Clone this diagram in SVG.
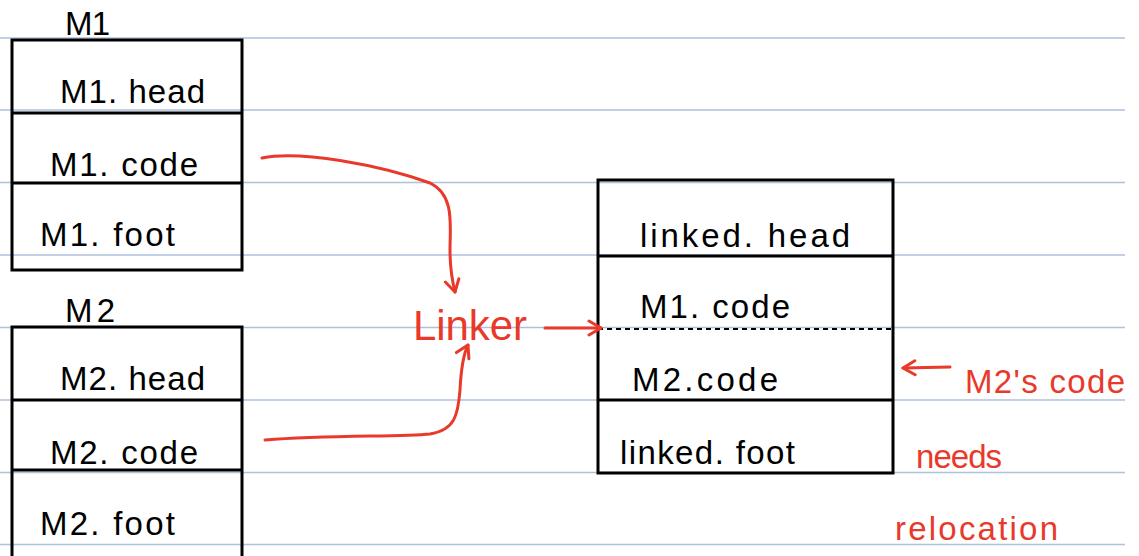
<svg xmlns="http://www.w3.org/2000/svg" width="1139" height="556" viewBox="0 0 1139 556">
<style>
.rule{stroke:#adc0dc;stroke-width:1.5}
.box{fill:none;stroke:#000;stroke-width:3}
.div{stroke:#000;stroke-width:3}
.t{font-family:"Liberation Sans",Arial,sans-serif;font-size:33px;fill:#000}
.r{font-family:"Liberation Sans",Arial,sans-serif;font-size:33px;fill:#e8392a}
.c{fill:none;stroke:#e8392a;stroke-width:3;stroke-linecap:round;stroke-linejoin:round}
</style>
<defs>
<marker id="ah" viewBox="-14 -9 16 18" markerWidth="16" markerHeight="18" refX="0" refY="0" orient="auto" markerUnits="userSpaceOnUse">
<path d="M-12,-7 L0,0 L-12,7" fill="none" stroke="#e8392a" stroke-width="3" stroke-linecap="round" stroke-linejoin="round"/>
</marker>
</defs>
<rect width="1139" height="556" fill="#fff"/>
<g id="rules">
<line class="rule" x1="0" y1="38" x2="1125" y2="38"/>
<line class="rule" x1="0" y1="110" x2="1125" y2="110"/>
<line class="rule" x1="0" y1="182.5" x2="1125" y2="182.5"/>
<line class="rule" x1="0" y1="255" x2="1125" y2="255"/>
<line class="rule" x1="0" y1="327.5" x2="1125" y2="327.5"/>
<line class="rule" x1="0" y1="400" x2="1125" y2="400"/>
<line class="rule" x1="0" y1="472.5" x2="1125" y2="472.5"/>
<line class="rule" x1="0" y1="544.5" x2="1125" y2="544.5"/>
</g>
<g id="m1">
<text class="t" x="65" y="35" textLength="45" lengthAdjust="spacing">M1</text>
<rect class="box" x="12" y="40" width="230" height="230"/>
<line class="div" x1="12" y1="113" x2="242" y2="113"/>
<line class="div" x1="12" y1="183" x2="242" y2="183"/>
<text class="t" x="60" y="103" textLength="145" lengthAdjust="spacing">M1. head</text>
<text class="t" x="50" y="176" textLength="148" lengthAdjust="spacing">M1. code</text>
<text class="t" x="40" y="246" textLength="135" lengthAdjust="spacing">M1. foot</text>
</g>
<g id="m2">
<text class="t" x="65" y="322" textLength="50" lengthAdjust="spacing">M2</text>
<rect class="box" x="12" y="327" width="230" height="270"/>
<line class="div" x1="12" y1="400" x2="242" y2="400"/>
<line class="div" x1="12" y1="470" x2="242" y2="470"/>
<text class="t" x="60" y="390" textLength="145" lengthAdjust="spacing">M2. head</text>
<text class="t" x="50" y="464" textLength="148" lengthAdjust="spacing">M2. code</text>
<text class="t" x="40" y="535" textLength="135" lengthAdjust="spacing">M2. foot</text>
</g>
<g id="linked">
<rect class="box" x="598" y="180" width="295" height="293"/>
<line class="div" x1="598" y1="256" x2="893" y2="256"/>
<line x1="598" y1="329" x2="893" y2="329" stroke="#000" stroke-width="2" stroke-dasharray="5,4"/>
<line class="div" x1="598" y1="400" x2="893" y2="400"/>
<text class="t" x="640" y="247" textLength="210" lengthAdjust="spacing">linked. head</text>
<text class="t" x="640" y="318" textLength="150" lengthAdjust="spacing">M1. code</text>
<text class="t" x="632" y="391" textLength="146" lengthAdjust="spacing">M2.code</text>
<text class="t" x="620" y="464" textLength="175" lengthAdjust="spacing">linked. foot</text>
</g>
<g id="linker">
<text class="r" x="413" y="340" textLength="114" lengthAdjust="spacing" style="font-size:42px">Linker</text>
</g>
<g id="note">
<text class="r" x="965" y="393" textLength="160" lengthAdjust="spacing">M2's code</text>
<text class="r" x="916" y="468" textLength="86" lengthAdjust="spacing">needs</text>
<text class="r" x="895" y="540" textLength="163" lengthAdjust="spacing">relocation</text>
</g>
<g id="connectors">
<path class="c" d="M262,158 C300,150 380,165 430,183 C455,195 450,225 450,250 C450,270 452,280 455,292" marker-end="url(#ah)"/>
<path class="c" d="M265,440 C330,435 400,437 430,434 C455,430 458,415 460,390 C461,370 463,355 468,345" marker-end="url(#ah)"/>
<path class="c" d="M545,328 L601,328" marker-end="url(#ah)"/>
<path class="c" d="M950,367 L903,368" marker-end="url(#ah)"/>
</g>
</svg>
